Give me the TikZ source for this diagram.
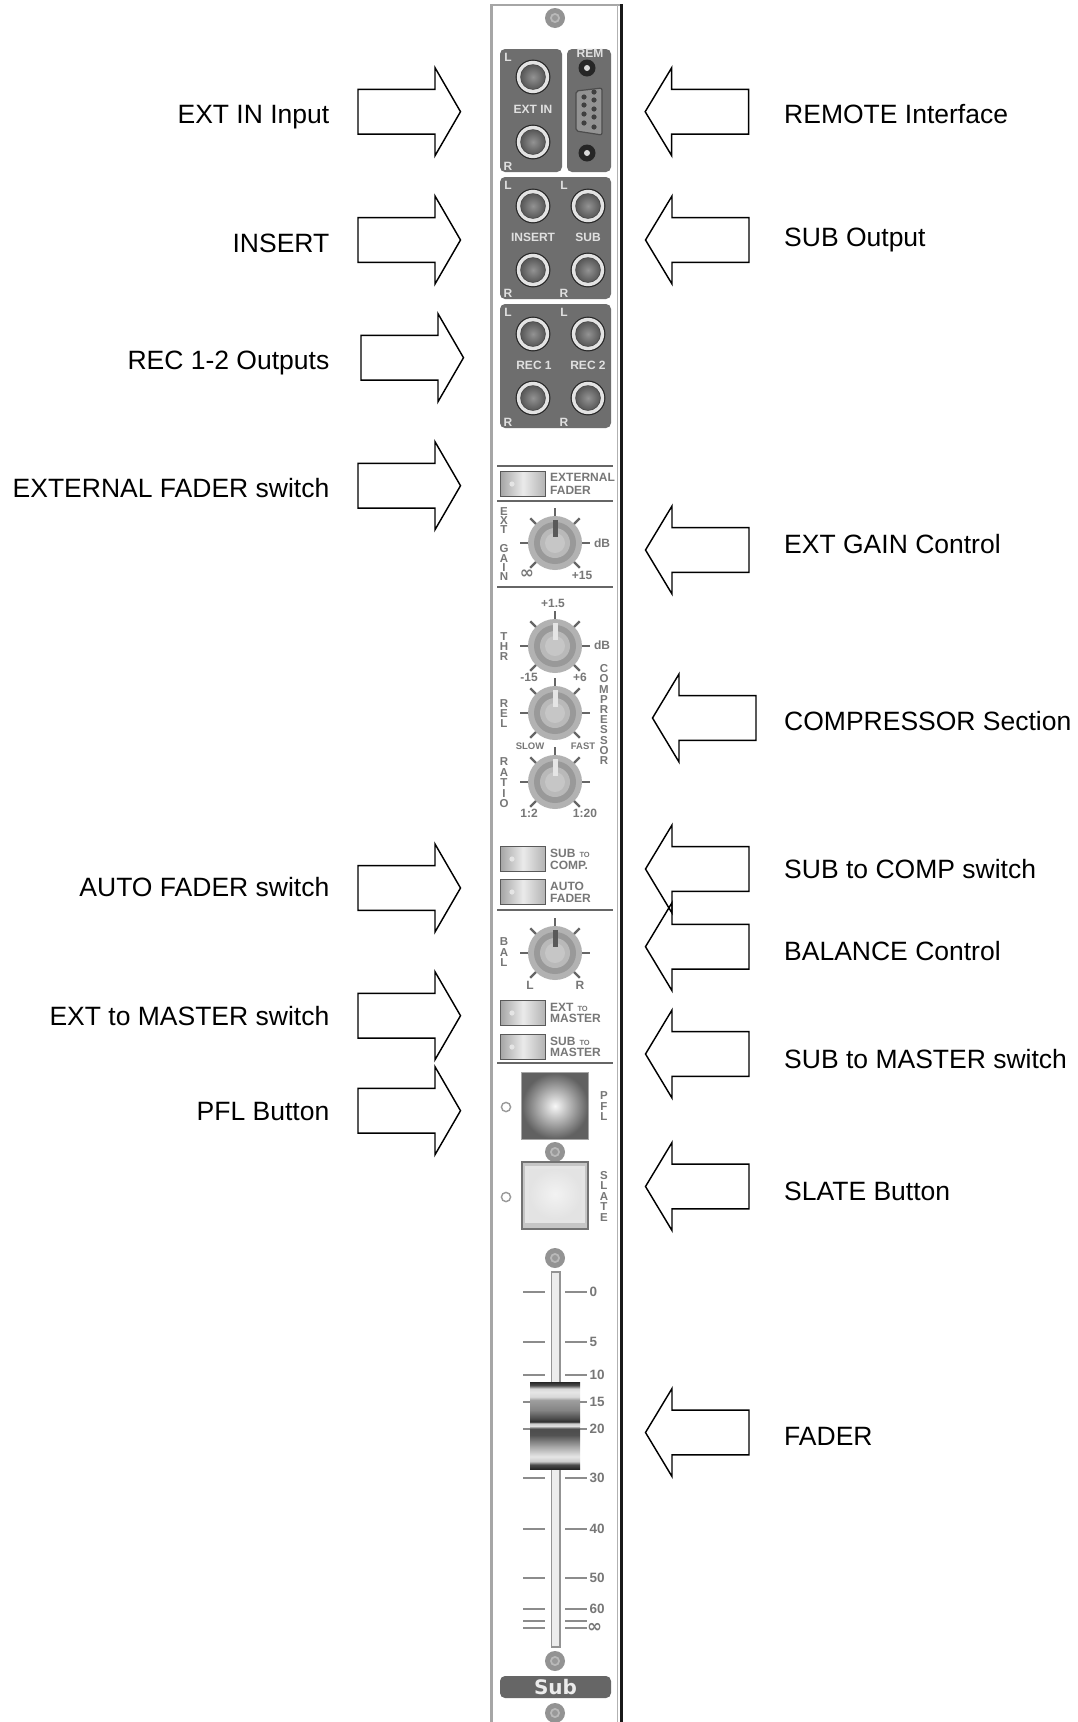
\documentclass[tikz,border=0pt]{standalone}
\usepackage{fontspec}
\setmainfont{Liberation Sans}
\newfontfamily\dejavu{DejaVu Sans}
\definecolor{panelgray}{HTML}{6E6E6E}
\definecolor{inkgray}{HTML}{777777}
\definecolor{tickgray}{HTML}{666666}
\pgfdeclareverticalshading{faderstripes}{100bp}{
rgb(0bp)=(.15,.15,.15);rgb(25bp)=(.15,.15,.15);rgb(27.5bp)=(.3,.3,.3);rgb(29.4bp)=(.8,.8,.8);rgb(32.2bp)=(.9,.9,.9);
rgb(34.1bp)=(.82,.82,.82);rgb(37.9bp)=(.65,.65,.65);rgb(44.6bp)=(.32,.32,.32);rgb(48.2bp)=(.3,.3,.3);rgb(49.7bp)=(.87,.87,.87);
rgb(51.2bp)=(.8,.8,.8);rgb(52.2bp)=(.18,.18,.18);rgb(54.1bp)=(.3,.3,.3);rgb(58.9bp)=(.52,.52,.52);rgb(64.6bp)=(.62,.62,.62);
rgb(66.5bp)=(.85,.85,.85);rgb(69.3bp)=(.9,.9,.9);rgb(71.2bp)=(.85,.85,.85);rgb(73.1bp)=(.3,.3,.3);rgb(75bp)=(.15,.15,.15);rgb(100bp)=(.15,.15,.15)}
\tikzset{
 x=1pt,y=-1pt,
 callout/.style={draw=black,line width=1.45pt,line join=miter,miter limit=10},
 lbl/.style={font=\fontsize{26.5}{30}\selectfont,text=black,inner sep=0pt},
 lblL/.style={lbl,anchor=base east},
 lblR/.style={lbl,anchor=base west},
 wtxt/.style={font=\fontsize{12}{12}\selectfont\bfseries,text=white!88!black,inner sep=0pt},
 gtxt/.style={font=\fontsize{12}{12}\selectfont\bfseries,text=inkgray,inner sep=0pt},
 gtxtL/.style={gtxt,anchor=west},
 sepline/.style={draw=tickgray,line width=2.6pt},
 tickline/.style={draw=tickgray,line width=2.3pt},
 scaleline/.style={draw=gray!90,line width=1.8pt},
 vert/.style={inner sep=0pt,text=inkgray,align=center,font=\fontsize{11.5}{#1}\selectfont\bfseries},
}
\newcommand\ArrR[2]{\draw[callout] (#1,{#2-22.4}) -- ({#1+77},{#2-22.4}) -- ({#1+77},{#2-44}) -- ({#1+102.5},#2) -- ({#1+77},{#2+44}) -- ({#1+77},{#2+22.4}) -- (#1,{#2+22.4}) -- cycle;}
\newcommand\ArrL[2]{\draw[callout] ({#1+103},{#2-22.4}) -- ({#1+26},{#2-22.4}) -- ({#1+26},{#2-44}) -- ({#1-0.5},#2) -- ({#1+26},{#2+44}) -- ({#1+26},{#2+22.4}) -- ({#1+103},{#2+22.4}) -- cycle;}
\newcommand\Jack[3]{%
 \fill[black!85] (#2,#3) circle (17.4);
 \fill[gray!22] (#2,#3) circle (16.2);
 \fill[black!70] (#2,#3) circle (12.8);
 \node[circle,inner sep=0pt,minimum size=24pt,inner color=gray!85,outer color=black!65] (#1) at (#2,#3) {};}
\newcommand\Screw[3]{%
 \node[circle,fill=gray!85,inner sep=0pt,minimum size=20pt] (#1) at (#2,#3) {};
 \fill[gray!55] (#2,#3) circle (5);
 \fill[gray!80] (#2,#3) circle (3);}
\newcommand\Knob[4]{%
 \foreach \a in {0,45,90,135,180,225,315}{\draw[tickline] ({#2+26*cos(\a)},{#3-26*sin(\a)}) -- ({#2+35*cos(\a)},{#3-35*sin(\a)});}
 \node[circle,fill=gray!60,inner sep=0pt,minimum size=54pt] (#1) at (#2,#3) {};
 \fill[gray!80] (#2,#3) circle (21);
 \fill[gray!55] (#2,#3) circle (15);
 \fill[gray!45] (#2,#3) circle (10);
 \draw[#4,line width=5pt] (#2,{#3-23}) -- (#2,{#3-6});}
\newcommand\Switch[3]{%
 \node[draw=black!65,line width=1.6pt,minimum width=45pt,minimum height=25pt,inner sep=0pt,left color=gray!70,right color=gray!60,middle color=white!92!black] (#1) at (#2,#3) {};
 \fill[white!90!black] ({#2-11},#3) circle (2.6);}
\begin{document}
\begin{tikzpicture}
\useasboundingbox (0,0) rectangle (1077,1722);
\fill[white] (0,0) rectangle (1077,1722);
% strip
\draw[draw=gray!70,line width=2.5pt] (491.5,1722) -- (491.5,5) -- (620,5);
\draw[draw=gray!60,line width=1.5pt] (617.5,5) -- (617.5,1722);
\draw[draw=black!90,line width=3.5pt] (621.5,4) -- (621.5,1722);
% screws
\Screw{screwTop}{555}{18}
\Screw{screwMid}{555}{1152}
\Screw{screwFader}{555}{1258}
\Screw{screwLow}{555}{1661}
\Screw{screwBot}{555}{1713}
% panels
\fill[panelgray,rounded corners=5pt] (500,49) rectangle (562,172);
\fill[panelgray,rounded corners=5pt] (567,49) rectangle (611,172);
\fill[panelgray,rounded corners=5pt] (500,177) rectangle (611,299);
\fill[panelgray,rounded corners=5pt] (500,304) rectangle (611,428);
% jacks
\Jack{jExtL}{533}{77}\Jack{jExtR}{533}{142}
\Jack{jInsL}{533}{206}\Jack{jInsR}{533}{270}
\Jack{jSubL}{588}{206}\Jack{jSubR}{588}{270}
\Jack{jRecAL}{533}{334}\Jack{jRecAR}{533}{398}
\Jack{jRecBL}{588}{334}\Jack{jRecBR}{588}{398}
% panel text
\node[wtxt] (tExt) at (533,109) {EXT IN};
\node[wtxt] (tIns) at (533,237) {INSERT};
\node[wtxt] (tSub) at (588,237) {SUB};
\node[wtxt] (tRecA) at (534,365) {REC 1};
\node[wtxt] (tRecB) at (588,365) {REC 2};
\node[wtxt] (tRem) at (590,53) {REM};
\node[wtxt] (l1) at (508,57) {L};
\node[wtxt] (r1) at (508,166) {R};
\node[wtxt] (l2) at (508,185) {L};
\node[wtxt] (l3) at (564,185) {L};
\node[wtxt] (r2) at (508,293) {R};
\node[wtxt] (r3) at (564,293) {R};
\node[wtxt] (l4) at (508,312) {L};
\node[wtxt] (l5) at (564,312) {L};
\node[wtxt] (r4) at (508,422) {R};
\node[wtxt] (r5) at (564,422) {R};
% remote
\fill[black!85] (587,68) circle (8.5);
\fill[white!85!black] (587,68) circle (3);
\fill[black!85] (587,153) circle (8.5);
\fill[white!85!black] (587,153) circle (3);
\draw[draw=black!70,fill=gray!85,line width=1.2pt,rounded corners=2pt] (576,91) -- (602,88) -- (602,135) -- (576,131) -- cycle;
\foreach \py in {92,100,109,117,127}{\fill[black!75] (594,\py) circle (2.6);}
\foreach \py in {97,105,114,123}{\fill[black!75] (584,\py) circle (2.6);}
% separators
\foreach \sy in {466,501,587,910,1063}{\draw[sepline] (497,\sy) -- (613,\sy);}
% switches
\Switch{swExt}{523}{484}
\Switch{swComp}{523}{859}
\Switch{swAuto}{523}{892}
\Switch{swExtM}{523}{1013}
\Switch{swSubM}{523}{1047}
\node[gtxtL] (tE1) at (550,477) {EXTERNAL};
\node[gtxtL] (tE2) at (550,490) {FADER};
\node[gtxtL] (tC1) at (550,853) {SUB\,\,{\fontsize{7.5}{7.5}\selectfont TO}};
\node[gtxtL] (tC2) at (550,865) {COMP.};
\node[gtxtL] (tA1) at (550,886) {AUTO};
\node[gtxtL] (tA2) at (550,898) {FADER};
\node[gtxtL] (tM1) at (550,1007) {EXT\,\,{\fontsize{7.5}{7.5}\selectfont TO}};
\node[gtxtL] (tM2) at (550,1018) {MASTER};
\node[gtxtL] (tS1) at (550,1041) {SUB\,\,{\fontsize{7.5}{7.5}\selectfont TO}};
\node[gtxtL] (tS2) at (550,1052) {MASTER};
% knobs
\Knob{kGain}{555}{543}{black!65}
\Knob{kThr}{555}{646}{gray!20}
\Knob{kRel}{555}{713}{gray!20}
\Knob{kRatio}{555}{782}{gray!20}
\Knob{kBal}{555}{953}{black!65}
% vertical labels
\node[vert=9.4pt] (vGain) at (504,544) {E\\X\\T\\\mbox{}\\G\\A\\I\\N};
\node[vert=10pt] (vThr) at (504,646.5) {T\\H\\R};
\node[vert=10pt] (vRel) at (504,714) {R\\E\\L};
\node[vert=10.5pt] (vRatio) at (504,783) {R\\A\\T\\I\\O};
\node[vert=10.2pt] (vComp) at (604,714.5) {C\\O\\M\\P\\R\\E\\S\\S\\O\\R};
\node[vert=10.5pt] (vBal) at (504,952.5) {B\\A\\L};
\node[vert=10.5pt] (vPfl) at (604,1106.5) {P\\F\\L};
\node[vert=10.5pt] (vSlate) at (604,1196) {S\\L\\A\\T\\E};
% knob scale text
\node[gtxt] (a1) at (602,543) {dB};
\node[gtxt,font=\fontsize{17}{17}\selectfont\bfseries\dejavu] (a2) at (527,574) {∞};
\node[gtxt] (a3) at (582,575) {+15};
\node[gtxt] (a4) at (553,603) {+1.5};
\node[gtxt] (a5) at (602,645) {dB};
\node[gtxt] (a6) at (529,677) {-15};
\node[gtxt] (a7) at (580,677) {+6};
\node[gtxt,font=\fontsize{9.5}{9.5}\selectfont\bfseries] (a8) at (530,746) {SLOW};
\node[gtxt,font=\fontsize{9.5}{9.5}\selectfont\bfseries] (a9) at (583,746) {FAST};
\node[gtxt] (a10) at (529,813) {1:2};
\node[gtxt] (a11) at (585,813) {1:20};
\node[gtxt] (a12) at (530,985) {L};
\node[gtxt] (a13) at (580,985) {R};
% PFL, SLATE buttons
\node[rectangle,minimum width=66pt,minimum height=66pt,inner sep=0pt,inner color=white!97!black,outer color=black!62] (pfl) at (555,1106) {};
\draw[gray!70,line width=1pt] (pfl.south west) rectangle (pfl.north east);
\draw[draw=gray!80,line width=1.4pt] (506,1107) circle (4.6);
\node[rectangle,draw=black!55,line width=1.4pt,fill=gray!45,minimum width=66pt,minimum height=67pt,inner sep=0pt] (slate) at (555,1195.5) {};
\fill[gray!20] (525,1166) rectangle (585,1223);
\node[rectangle,minimum width=52pt,minimum height=50pt,inner sep=0pt,inner color=white!95!black,outer color=gray!22] (slateFace) at (555,1194) {};
\draw[draw=gray!80,line width=1.4pt] (506,1197) circle (4.6);
% fader slot and scale
\foreach \ty/\tx in {1292/0,1342/5,1375/10,1402/15,1429/20,1478/30,1529/40,1578/50,1609/60}{
 \draw[scaleline] (523,\ty) -- (545,\ty);
 \draw[scaleline] (565,\ty) -- (587,\ty);
 \node[gtxt,anchor=west,font=\fontsize{13.5}{13.5}\selectfont\bfseries] (sc\tx) at (589.5,\ty) {\tx};
}
\foreach \ty in {1621,1628}{
 \draw[scaleline] (523,\ty) -- (545,\ty);
 \draw[scaleline] (565,\ty) -- (587,\ty);
}
\node[gtxt,anchor=west,font=\fontsize{18}{18}\selectfont\bfseries\dejavu] (scInf) at (587,1628) {∞};
\draw[draw=gray!85,fill=gray!15,line width=1.5pt] (551.5,1272) rectangle (560,1647);
\node[rectangle,minimum width=50pt,minimum height=87pt,inner sep=0pt,shading=faderstripes] (cap) at (555,1425.5) {};
% sub badge
\node[rectangle,fill=gray!80!black,rounded corners=5pt,minimum width=111pt,minimum height=22pt,inner sep=0pt,font=\fontsize{20}{20}\selectfont\bfseries\dejavu,text=white!92!black] (sub) at (555.5,1687) {Sub};
% arrows
\ArrR{358}{111.7}
\ArrR{358}{240}
\ArrR{361}{357.7}
\ArrR{358}{485.7}
\ArrR{358}{888}
\ArrR{358}{1015.7}
\ArrR{358}{1110.7}
\ArrL{645.7}{111.7}
\ArrL{646}{240}
\ArrL{646}{550}
\ArrL{653}{718}
\ArrL{646}{869}
\ArrL{646}{946.7}
\ArrL{646}{1054}
\ArrL{646}{1186.5}
\ArrL{646}{1432.5}
% labels
\node[lblL] (n1) at (329.5,123) {EXT IN Input};
\node[lblL] (n2) at (329.5,252) {INSERT};
\node[lblL] (n3) at (329.5,369) {REC 1-2 Outputs};
\node[lblL] (n4) at (329.5,497) {EXTERNAL FADER switch};
\node[lblL] (n5) at (329.5,896) {AUTO FADER switch};
\node[lblL] (n6) at (329.5,1025) {EXT to MASTER switch};
\node[lblL] (n7) at (329.5,1120) {PFL Button};
\node[lblR] (m1) at (784,123) {REMOTE Interface};
\node[lblR] (m2) at (784,246) {SUB Output};
\node[lblR] (m3) at (784,553) {EXT GAIN Control};
\node[lblR] (m4) at (784,730) {COMPRESSOR Section};
\node[lblR] (m5) at (784,878) {SUB to COMP switch};
\node[lblR] (m6) at (784,960) {BALANCE Control};
\node[lblR] (m7) at (784,1068) {SUB to MASTER switch};
\node[lblR] (m8) at (784,1200) {SLATE Button};
\node[lblR] (m9) at (784,1445) {FADER};
\end{tikzpicture}
\end{document}
